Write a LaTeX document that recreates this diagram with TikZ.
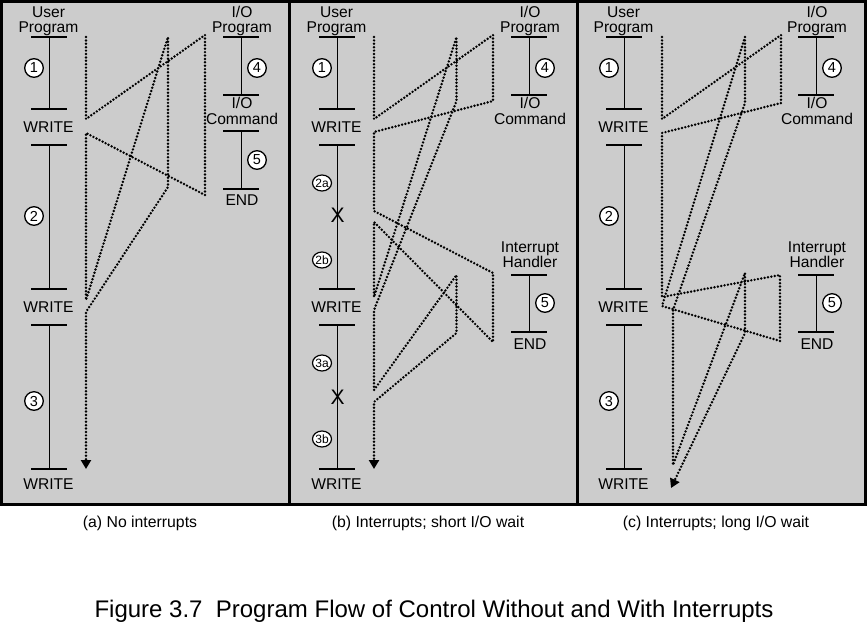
\documentclass[tikz,border=0pt]{standalone}
\usepackage{fontspec}
\setmainfont{Liberation Sans}
\usetikzlibrary{arrows.meta,shapes.geometric}
\definecolor{panelgray}{RGB}{204,204,204}
\tikzset{
  panel/.style={draw=black, fill=panelgray, line width=3pt},
  lbl/.style={font=\fontsize{15.6}{15.6}\selectfont, inner sep=0pt, anchor=base},
  capt/.style={font=\fontsize{15.8}{15.8}\selectfont, inner sep=0pt, anchor=base},
  ttl/.style={font=\fontsize{24}{24}\selectfont, inner sep=0pt, anchor=base},
  tick/.style={line width=1.2pt},
  num/.style={circle, draw, fill=white, line width=1.3pt, inner sep=0pt, minimum size=18.6pt, font=\fontsize{14.5}{14.5}\selectfont},
  subnum/.style={ellipse, draw, fill=white, line width=1.2pt, inner sep=0pt, minimum width=19pt, minimum height=16pt, font=\fontsize{12}{12}\selectfont},
  intmark/.style={font=\fontsize{21}{21}\selectfont, inner sep=0pt},
  flow/.style={line width=2.7pt, dash pattern=on 0pt off 3.4pt, line cap=round, line join=round},
  flowarrow/.style={flow, -{Triangle[width=10pt,length=9pt]}},
}
% user program spine (three sections, three WRITE labels)
\newcommand\UPspine[1]{%
  \node[lbl] (#1-user) at (48.5,17) {User};
  \node[lbl] (#1-uprog) at (48.5,32) {Program};
  \draw[tick] (31,37) -- (67,37) (49.5,37) -- (49.5,109) (31,109) -- (67,109);
  \node[lbl] (#1-w1) at (48.5,132.7) {WRITE};
  \draw[tick] (31,145) -- (67,145) (49.5,145) -- (49.5,289) (31,289) -- (67,289);
  \node[lbl] (#1-w2) at (48.5,312.7) {WRITE};
  \draw[tick] (31,325) -- (67,325) (49.5,325) -- (49.5,469) (31,469) -- (67,469);
  \node[lbl] (#1-w3) at (48.5,489.3) {WRITE};
}
% I/O program (4) down to I/O Command
\newcommand\IOspine[1]{%
  \node[lbl] (#1-io) at (242,17) {I/O};
  \node[lbl] (#1-ioprog) at (242,32) {Program};
  \draw[tick] (223,37) -- (259,37) (241.5,37) -- (241.5,95) (223,95) -- (259,95);
  \node[num] (#1-n4) at (257,68) {4};
  \node[lbl] (#1-io2) at (242,108.3) {I/O};
  \node[lbl] (#1-cmd) at (242,124) {Command};
}
% interrupt handler (5)
\newcommand\IHspine[1]{%
  \node[lbl] (#1-int) at (242,252.3) {Interrupt};
  \node[lbl] (#1-hdl) at (242,267.3) {Handler};
  \draw[tick] (223,275) -- (259,275) (241.5,275) -- (241.5,332) (223,332) -- (259,332);
  \node[num] (#1-n5) at (257,303) {5};
  \node[lbl] (#1-end) at (242,349) {END};
}
\begin{document}
\begin{tikzpicture}[x=1pt,y=-1pt]
\useasboundingbox (0,0) rectangle (867,630);

% ---------- panels ----------
\draw[panel] (1.5,1.5) rectangle (289,504.5);
\draw[panel] (289,1.5) rectangle (577,504.5);
\draw[panel] (577,1.5) rectangle (865.5,504.5);

% ---------- (a) No interrupts ----------
\begin{scope}
  \UPspine{a}
  \node[num] (a-n1) at (34,68) {1};
  \node[num] (a-n2) at (34,216) {2};
  \node[num] (a-n3) at (34,401) {3};
  \IOspine{a}
  \draw[tick] (223,131) -- (259,131) (241.5,131) -- (241.5,189) (223,189) -- (259,189);
  \node[num] (a-n5) at (257,160) {5};
  \node[lbl] (a-end) at (242,205) {END};
  \draw[flowarrow] (86,37) -- (86,119) -- (205,35) -- (205,195) -- (86,133)
     -- (86,300) -- (168,37) -- (168,187) -- (86,312) -- (86,469);
  \node[capt] (a-cap) at (140,527) {(a) No interrupts};
\end{scope}

% ---------- (b) Interrupts; short I/O wait ----------
\begin{scope}[xshift=288pt]
  \UPspine{b}
  \node[num] (b-n1) at (34,68) {1};
  \node[subnum] (b-n2a) at (34,183) {2a};
  \node[subnum] (b-n2b) at (34,260) {2b};
  \node[subnum] (b-n3a) at (34,363) {3a};
  \node[subnum] (b-n3b) at (34,439) {3b};
  \node[intmark] (b-x1) at (49.7,215.5) {X};
  \node[intmark] (b-x2) at (49.7,397) {X};
  \IOspine{b}
  \IHspine{b}
  \draw[flowarrow] (86,37) -- (86,119) -- (205,35) -- (205,101) -- (86,132)
     -- (86,211) -- (205,273) -- (205,342) -- (86,222)
     -- (86,297) -- (168.5,37) -- (168.5,101) -- (86,310)
     -- (86,390) -- (168.5,275) -- (168.5,333) -- (86,402) -- (86,469);
  \node[capt] (b-cap) at (140,527) {(b) Interrupts; short I/O wait};
\end{scope}

% ---------- (c) Interrupts; long I/O wait ----------
\begin{scope}[xshift=575pt]
  \UPspine{c}
  \node[num] (c-n1) at (34,68) {1};
  \node[num] (c-n2) at (34,216) {2};
  \node[num] (c-n3) at (34,401) {3};
  \IOspine{c}
  \IHspine{c}
  \draw[flowarrow] (87,37) -- (87,119) -- (206,35) -- (206,103) -- (87,133)
     -- (87,297) -- (205,275) -- (205,341) -- (87,306)
     -- (170,37) -- (170,103) -- (98,310) -- (98,465)
     -- (170,273) -- (170,333) -- (96,488);
  \node[capt] (c-cap) at (141,527) {(c) Interrupts; long I/O wait};
\end{scope}

% ---------- title ----------
\node[ttl] (title) at (434,617) {Figure 3.7\ \ Program Flow of Control Without and With Interrupts};
\end{tikzpicture}
\end{document}
